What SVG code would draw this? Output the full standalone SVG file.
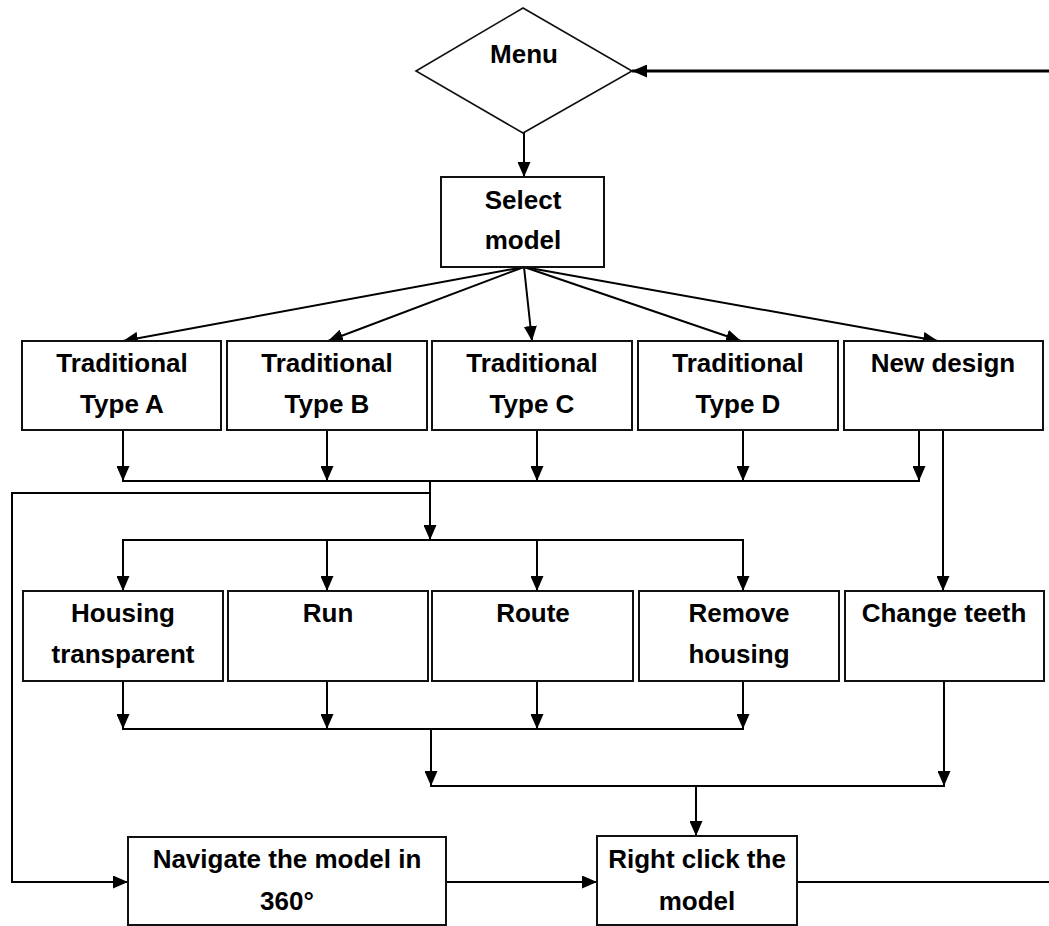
<svg xmlns="http://www.w3.org/2000/svg" width="1049" height="926" viewBox="0 0 1049 926">
  <style>
    .box { fill: #fff; stroke: #111; stroke-width: 2; }
    .dec { fill: #fff; stroke: #111; stroke-width: 1.6; }
    .lbl { font-family: "Liberation Sans", Arial, sans-serif; font-size: 26px; font-weight: bold; fill: #000; text-anchor: middle; }
    .wire { fill: none; stroke: #000; stroke-width: 2; }
    .wire-arrow { fill: none; stroke: #000; stroke-width: 2; marker-end: url(#head); }
  </style>
  <defs>
    <marker id="head" markerUnits="userSpaceOnUse" markerWidth="15" markerHeight="13" refX="15" refY="6.5" orient="auto">
      <path d="M0,0 L15,6.5 L0,13 Z" fill="#000"/>
    </marker>
  </defs>
  <rect width="1049" height="926" fill="#fff"/>

  <g id="connectors">
    <!-- menu to selection -->
    <line class="wire-arrow" x1="524" y1="133" x2="524" y2="177"/>
    <!-- fan-out to model types -->
    <line class="wire-arrow" x1="524" y1="267" x2="123" y2="341"/>
    <line class="wire-arrow" x1="524" y1="267" x2="328" y2="341"/>
    <line class="wire-arrow" x1="524" y1="267" x2="532" y2="341"/>
    <line class="wire-arrow" x1="524" y1="267" x2="741" y2="341"/>
    <line class="wire-arrow" x1="524" y1="267" x2="938" y2="341"/>
    <!-- model types merge -->
    <line class="wire-arrow" x1="123" y1="430" x2="123" y2="481"/>
    <line class="wire-arrow" x1="327" y1="430" x2="327" y2="481"/>
    <line class="wire-arrow" x1="537" y1="430" x2="537" y2="481"/>
    <line class="wire-arrow" x1="743" y1="430" x2="743" y2="481"/>
    <line class="wire-arrow" x1="919" y1="430" x2="919" y2="481"/>
    <line class="wire" x1="122" y1="481" x2="920" y2="481"/>
    <!-- loop to navigation -->
    <path class="wire-arrow" d="M430,493 H12 V882 H128"/>
    <!-- merged flow to functions -->
    <line class="wire-arrow" x1="430" y1="481" x2="430" y2="540"/>
    <line class="wire" x1="122" y1="540" x2="744" y2="540"/>
    <line class="wire-arrow" x1="123" y1="540" x2="123" y2="591"/>
    <line class="wire-arrow" x1="327" y1="540" x2="327" y2="591"/>
    <line class="wire-arrow" x1="537" y1="540" x2="537" y2="591"/>
    <line class="wire-arrow" x1="743" y1="540" x2="743" y2="591"/>
    <!-- new design to change teeth -->
    <line class="wire-arrow" x1="943" y1="430" x2="943" y2="591"/>
    <!-- functions merge -->
    <line class="wire-arrow" x1="123" y1="681" x2="123" y2="729"/>
    <line class="wire-arrow" x1="327" y1="681" x2="327" y2="729"/>
    <line class="wire-arrow" x1="537" y1="681" x2="537" y2="729"/>
    <line class="wire-arrow" x1="743" y1="681" x2="743" y2="729"/>
    <line class="wire" x1="122" y1="729" x2="744" y2="729"/>
    <line class="wire-arrow" x1="431" y1="729" x2="431" y2="786"/>
    <line class="wire-arrow" x1="944" y1="681" x2="944" y2="786"/>
    <line class="wire" x1="430" y1="786" x2="945" y2="786"/>
    <line class="wire-arrow" x1="696" y1="786" x2="696" y2="836"/>
    <!-- navigation to right click -->
    <line class="wire-arrow" x1="446" y1="882" x2="597" y2="882"/>
    <!-- return to menu -->
    <line class="wire" x1="797" y1="882" x2="1049" y2="882"/>
    <line class="wire-arrow" x1="1049" y1="71" x2="632" y2="71" style="stroke-width:3"/>
  </g>

  <g id="menu">
    <polygon class="dec" points="416,71 523,8 632,71 523,133"/>
    <text class="lbl" x="524" y="63">Menu</text>
  </g>

  <g id="select-model">
    <rect class="box" x="441" y="177" width="163" height="90"/>
    <text class="lbl" x="523" y="209">Select</text>
    <text class="lbl" x="523" y="249">model</text>
  </g>

  <g id="type-a">
    <rect class="box" x="22" y="341" width="199" height="89"/>
    <text class="lbl" x="122" y="372">Traditional</text>
    <text class="lbl" x="122" y="413">Type A</text>
  </g>
  <g id="type-b">
    <rect class="box" x="227" y="341" width="200" height="89"/>
    <text class="lbl" x="327" y="372">Traditional</text>
    <text class="lbl" x="327" y="413">Type B</text>
  </g>
  <g id="type-c">
    <rect class="box" x="432" y="341" width="200" height="89"/>
    <text class="lbl" x="532" y="372">Traditional</text>
    <text class="lbl" x="532" y="413">Type C</text>
  </g>
  <g id="type-d">
    <rect class="box" x="638" y="341" width="200" height="89"/>
    <text class="lbl" x="738" y="372">Traditional</text>
    <text class="lbl" x="738" y="413">Type D</text>
  </g>
  <g id="new-design">
    <rect class="box" x="844" y="341" width="199" height="89"/>
    <text class="lbl" x="943" y="372">New design</text>
  </g>

  <g id="housing-transparent">
    <rect class="box" x="23" y="591" width="200" height="90"/>
    <text class="lbl" x="123" y="622">Housing</text>
    <text class="lbl" x="123" y="663">transparent</text>
  </g>
  <g id="run">
    <rect class="box" x="228" y="591" width="200" height="90"/>
    <text class="lbl" x="328" y="622">Run</text>
  </g>
  <g id="route">
    <rect class="box" x="432" y="591" width="201" height="90"/>
    <text class="lbl" x="533" y="622">Route</text>
  </g>
  <g id="remove-housing">
    <rect class="box" x="639" y="591" width="200" height="90"/>
    <text class="lbl" x="739" y="622">Remove</text>
    <text class="lbl" x="739" y="663">housing</text>
  </g>
  <g id="change-teeth">
    <rect class="box" x="845" y="591" width="199" height="90"/>
    <text class="lbl" x="944" y="622">Change teeth</text>
  </g>

  <g id="navigate">
    <rect class="box" x="128" y="837" width="318" height="88"/>
    <text class="lbl" x="287" y="868">Navigate the model in</text>
    <text class="lbl" x="287" y="910">360°</text>
  </g>
  <g id="right-click">
    <rect class="box" x="597" y="836" width="200" height="89"/>
    <text class="lbl" x="697" y="868">Right click the</text>
    <text class="lbl" x="697" y="910">model</text>
  </g>
</svg>
